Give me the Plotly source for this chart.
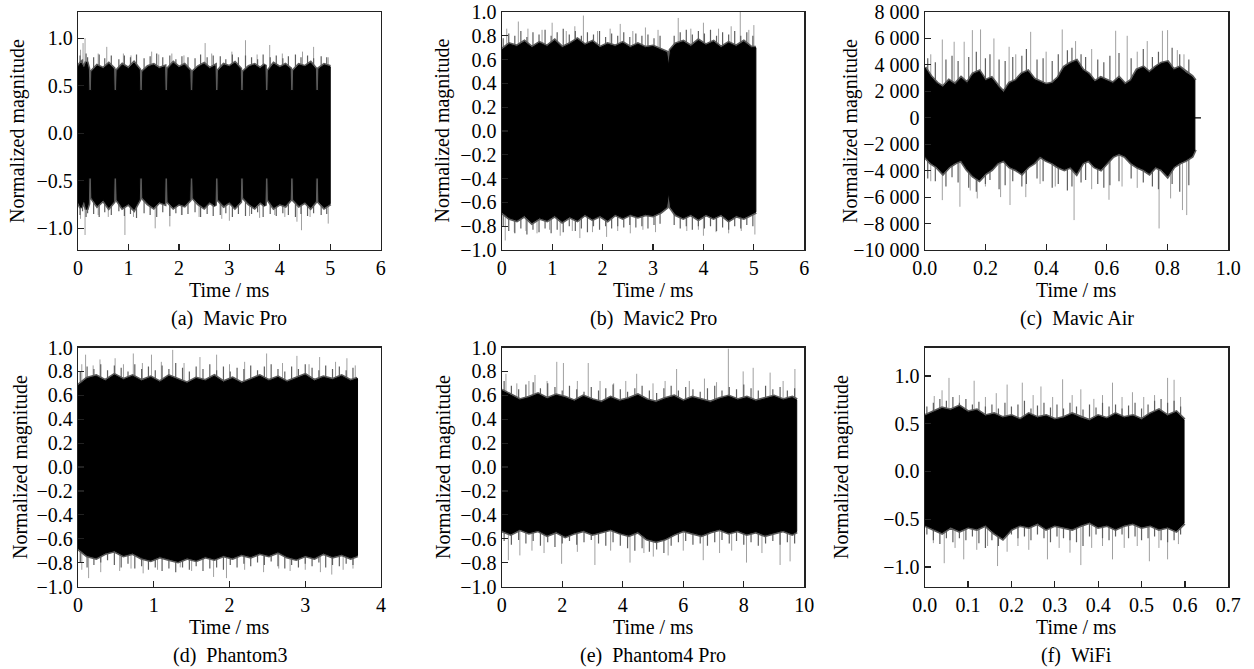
import plotly.graph_objects as go

W, H = 1254, 669
FONT = "Liberation Serif, Times New Roman, serif"
FS = 20

# ---------------- data ----------------
# (a) Mavic Pro : envelope of dense part, hairs at the edge, isolated peaks
a_t = [0.000, 0.060, 0.120, 0.170, 0.205, 0.215, 0.265,
       0.275, 0.380, 0.500, 0.610, 0.705, 0.715, 0.765,
       0.775, 0.880, 1.000, 1.110, 1.215, 1.225, 1.275,
       1.285, 1.390, 1.500, 1.610, 1.715, 1.725, 1.775,
       1.785, 1.890, 2.000, 2.110, 2.215, 2.225, 2.275,
       2.285, 2.390, 2.500, 2.610, 2.715, 2.725, 2.775,
       2.785, 2.890, 3.000, 3.110, 3.215, 3.225, 3.275,
       3.285, 3.390, 3.500, 3.610, 3.705, 3.715, 3.765,
       3.775, 3.880, 4.000, 4.110, 4.205, 4.215, 4.265,
       4.275, 4.380, 4.500, 4.610, 4.705, 4.715, 4.765,
       4.775, 4.880, 5.000]
a_hi = [0.70, 0.74, 0.68, 0.75, 0.68, 0.45, 0.45,
        0.65, 0.71, 0.68, 0.73, 0.68, 0.45, 0.45,
        0.66, 0.72, 0.68, 0.74, 0.67, 0.45, 0.45,
        0.65, 0.70, 0.72, 0.68, 0.70, 0.45, 0.45,
        0.68, 0.74, 0.69, 0.72, 0.66, 0.45, 0.45,
        0.65, 0.70, 0.73, 0.68, 0.71, 0.45, 0.45,
        0.66, 0.72, 0.70, 0.74, 0.68, 0.45, 0.45,
        0.65, 0.70, 0.72, 0.68, 0.72, 0.45, 0.45,
        0.66, 0.73, 0.69, 0.72, 0.68, 0.45, 0.45,
        0.66, 0.72, 0.70, 0.74, 0.68, 0.45, 0.45,
        0.68, 0.72, 0.70]
a_lo = [-0.72, -0.78, -0.70, -0.80, -0.74, -0.47, -0.47,
        -0.68, -0.76, -0.70, -0.78, -0.72, -0.47, -0.47,
        -0.70, -0.78, -0.74, -0.80, -0.70, -0.47, -0.47,
        -0.68, -0.74, -0.78, -0.72, -0.74, -0.47, -0.47,
        -0.72, -0.78, -0.74, -0.76, -0.70, -0.47, -0.47,
        -0.68, -0.74, -0.78, -0.72, -0.76, -0.47, -0.47,
        -0.70, -0.76, -0.72, -0.78, -0.72, -0.47, -0.47,
        -0.68, -0.74, -0.78, -0.72, -0.76, -0.47, -0.47,
        -0.70, -0.78, -0.74, -0.76, -0.70, -0.47, -0.47,
        -0.70, -0.76, -0.72, -0.78, -0.72, -0.47, -0.47,
        -0.72, -0.78, -0.74]
a_fr_t = [0.04, 0.09, 0.16, 0.19, 0.31, 0.42, 0.53, 0.66, 0.81, 0.92, 1.04, 1.16,
          1.31, 1.43, 1.56, 1.68, 1.82, 1.94, 2.06, 2.18, 2.32, 2.43, 2.56, 2.68,
          2.82, 2.93, 3.06, 3.18, 3.32, 3.44, 3.56, 3.67, 3.81, 3.93, 4.06, 4.17,
          4.31, 4.42, 4.55, 4.67, 4.82, 4.93]
a_fr_up = [0.82, 0.78, 0.84, 0.80, 0.80, 0.83, 0.79, 0.82, 0.78, 0.82, 0.80, 0.83,
           0.79, 0.81, 0.84, 0.80, 0.82, 0.78, 0.81, 0.80, 0.79, 0.83, 0.80, 0.82,
           0.81, 0.78, 0.83, 0.80, 0.82, 0.80, 0.78, 0.83, 0.80, 0.82, 0.79, 0.81,
           0.83, 0.80, 0.82, 0.79, 0.81, 0.80]
a_fr_dn = [-0.86, -0.82, -0.88, -0.84, -0.85, -0.88, -0.83, -0.86, -0.82, -0.87, -0.85, -0.89,
           -0.84, -0.86, -0.88, -0.83, -0.87, -0.84, -0.86, -0.85, -0.83, -0.88, -0.85, -0.87,
           -0.86, -0.84, -0.88, -0.85, -0.87, -0.85, -0.83, -0.88, -0.85, -0.87, -0.84, -0.86,
           -0.88, -0.85, -0.87, -0.84, -0.86, -0.85]
a_up_t = [0.05, 0.10, 0.14, 0.40, 0.57, 0.90, 1.05, 1.46, 1.60, 1.86, 2.10,
          2.52, 2.65, 3.05, 3.32, 3.55, 3.80, 4.05, 4.45, 4.67, 4.96]
a_up_v = [0.88, 0.95, 1.00, 0.84, 0.91, 0.84, 0.82, 0.86, 0.83, 0.84, 0.82,
          0.95, 0.84, 0.86, 0.98, 0.83, 0.93, 0.84, 0.86, 0.91, 0.80]
a_dn_t = [0.05, 0.14, 0.40, 0.60, 0.93, 1.10, 1.53, 1.82, 2.05, 2.40,
          2.85, 3.00, 3.40, 3.60, 3.90, 4.10, 4.34, 4.43, 4.60, 4.96]
a_dn_v = [-0.90, -1.07, -0.86, -0.88, -1.07, -0.88, -1.00, -0.98, -0.86, -0.88,
          -0.90, -0.92, -0.87, -0.89, -0.86, -0.88, -0.93, -1.02, -0.88, -0.95]

# (b) Mavic2 Pro
b_t = [0.00, 0.15, 0.30, 0.45, 0.60, 0.75, 0.90, 1.05, 1.20, 1.35, 1.50, 1.65,
       1.80, 1.95, 2.10, 2.25, 2.40, 2.55, 2.70, 2.85, 3.00, 3.15, 3.27, 3.31,
       3.35, 3.45, 3.60, 3.75, 3.90, 4.05, 4.20, 4.35, 4.50, 4.65, 4.80, 4.95, 5.04]
b_hi = [0.68, 0.73, 0.71, 0.75, 0.70, 0.74, 0.71, 0.76, 0.70, 0.73, 0.77, 0.72,
        0.75, 0.70, 0.73, 0.71, 0.74, 0.70, 0.73, 0.70, 0.71, 0.68, 0.66, 0.55,
        0.68, 0.73, 0.75, 0.71, 0.76, 0.72, 0.75, 0.70, 0.74, 0.71, 0.75, 0.70, 0.70]
b_lo = [-0.68, -0.73, -0.75, -0.71, -0.77, -0.73, -0.75, -0.71, -0.76, -0.72, -0.75, -0.70,
        -0.74, -0.71, -0.75, -0.70, -0.73, -0.70, -0.72, -0.70, -0.71, -0.68, -0.64, -0.52,
        -0.64, -0.70, -0.73, -0.70, -0.74, -0.70, -0.73, -0.70, -0.75, -0.71, -0.73, -0.70, -0.68]
b_fr_t = [0.03, 0.14, 0.26, 0.38, 0.50, 0.62, 0.74, 0.86, 0.98, 1.10, 1.22, 1.34,
          1.46, 1.58, 1.70, 1.82, 1.94, 2.06, 2.18, 2.30, 2.42, 2.54, 2.66, 2.78,
          2.90, 3.02, 3.14, 3.42, 3.54, 3.66, 3.78, 3.90, 4.02, 4.14, 4.26, 4.38,
          4.50, 4.62, 4.74, 4.86, 4.98]
b_fr_up = [0.78, 0.82, 0.80, 0.84, 0.79, 0.83, 0.81, 0.85, 0.80, 0.83, 0.86, 0.81,
           0.84, 0.80, 0.83, 0.81, 0.84, 0.79, 0.82, 0.80, 0.83, 0.79, 0.82, 0.80,
           0.81, 0.78, 0.80, 0.80, 0.83, 0.85, 0.81, 0.84, 0.82, 0.85, 0.80, 0.83,
           0.81, 0.84, 0.80, 0.83, 0.80]
b_fr_dn = [-0.80, -0.84, -0.86, -0.82, -0.87, -0.83, -0.85, -0.82, -0.86, -0.83, -0.85, -0.80,
           -0.84, -0.82, -0.85, -0.80, -0.83, -0.80, -0.82, -0.80, -0.81, -0.79, -0.81, -0.80,
           -0.82, -0.79, -0.78, -0.79, -0.82, -0.80, -0.83, -0.80, -0.82, -0.80, -0.84, -0.81,
           -0.83, -0.80, -0.82, -0.79, -0.80]
b_up_t = [0.10, 0.33, 0.52, 0.80, 1.00, 1.28, 1.45, 1.62, 1.90, 2.15, 2.35,
          2.60, 2.85, 3.10, 3.50, 3.75, 4.00, 4.30, 4.55, 4.73, 4.90, 5.00]
b_up_v = [0.86, 0.92, 0.86, 0.85, 0.91, 0.84, 0.88, 0.97, 0.84, 0.86, 0.90,
          0.84, 0.87, 0.85, 0.95, 0.86, 0.91, 0.86, 0.88, 1.00, 0.85, 0.89]
b_dn_t = [0.07, 0.25, 0.48, 0.70, 0.95, 1.16, 1.40, 1.55, 1.80, 2.08, 2.30,
          2.55, 2.80, 3.05, 3.67, 3.90, 4.00, 4.25, 4.50, 4.75, 5.02]
b_dn_v = [-0.92, -0.85, -0.84, -0.86, -0.83, -0.88, -0.84, -0.90, -0.85, -0.89, -0.84,
          -0.86, -0.83, -0.85, -0.84, -0.83, -0.88, -0.85, -0.86, -0.84, -0.87]

# (c) Mavic Air
c_t = [0.000, 0.020, 0.040, 0.060, 0.080, 0.100, 0.120, 0.140, 0.160, 0.180,
       0.200, 0.220, 0.240, 0.260, 0.280, 0.300, 0.320, 0.340, 0.360, 0.380,
       0.400, 0.420, 0.440, 0.460, 0.480, 0.500, 0.520, 0.540, 0.560, 0.580,
       0.600, 0.620, 0.640, 0.660, 0.680, 0.700, 0.720, 0.740, 0.760, 0.780,
       0.800, 0.820, 0.840, 0.860, 0.880, 0.890]
c_hi = [3800, 3100, 2600, 2300, 2800, 2500, 3000, 2600, 3300, 3500,
        2800, 3000, 2400, 1900, 2600, 2800, 3300, 3500, 2900, 2700,
        2500, 2600, 3000, 3800, 4100, 4300, 3600, 3300, 2700, 3000,
        2800, 2600, 3000, 2500, 2800, 3600, 3800, 3400, 3800, 4100,
        4200, 3600, 3800, 3400, 3100, 2800]
c_lo = [-2900, -3400, -3700, -4200, -3700, -3400, -3200, -3900, -4400, -4700,
        -4200, -3900, -3400, -3200, -3700, -3900, -4200, -3700, -3400, -2900,
        -3200, -3400, -3700, -3900, -3700, -4200, -3400, -3200, -3700, -3900,
        -3400, -2900, -2700, -2900, -3400, -3700, -3900, -4200, -3700, -3900,
        -4400, -3700, -3400, -3200, -2900, -2400]
c_fr_t = [0.010, 0.035, 0.070, 0.090, 0.110, 0.145, 0.170, 0.200, 0.215, 0.245,
          0.265, 0.290, 0.320, 0.335, 0.370, 0.390, 0.420, 0.440, 0.470, 0.485,
          0.515, 0.530, 0.570, 0.590, 0.610, 0.640, 0.680, 0.720, 0.750, 0.770,
          0.815, 0.840, 0.870]
c_fr_up = [4500, 4200, 4400, 4700, 4300, 4600, 5000, 4500, 4800, 4400,
           4300, 4600, 4700, 5200, 4400, 4500, 4300, 4800, 5100, 5300,
           4800, 4600, 4400, 4200, 4700, 4900, 4500, 5200, 4600, 5000,
           5300, 4800, 4400]
c_fr_dn = [-4600, -4800, -5200, -4500, -4900, -5300, -5600, -5000, -4700, -5400,
           -5100, -4800, -5200, -5000, -4600, -4800, -5300, -5000, -5500, -5200,
           -4900, -4700, -5000, -5300, -5100, -4800, -4600, -4900, -5200, -5400,
           -5000, -5600, -5100]
c_up_t = [0.020, 0.058, 0.097, 0.130, 0.157, 0.184, 0.228, 0.278, 0.300, 0.349, 0.400,
          0.453, 0.497, 0.550, 0.629, 0.667, 0.700, 0.733, 0.783, 0.800, 0.832, 0.854]
c_up_v = [4800, 5920, 5750, 5750, 6630, 6680, 6000, 5370, 4800, 6500, 5000,
          6680, 5800, 5200, 6580, 6200, 5000, 5800, 6580, 6630, 5120, 4800]
c_dn_t = [0.020, 0.058, 0.116, 0.150, 0.173, 0.200, 0.250, 0.281, 0.333, 0.380,
          0.430, 0.492, 0.550, 0.607, 0.650, 0.700, 0.772, 0.810, 0.849, 0.863]
c_dn_v = [-4800, -6230, -6730, -5500, -6100, -5200, -6000, -6600, -6000, -5000,
          -5200, -7740, -5400, -6200, -5200, -5300, -8370, -6100, -6980, -7360]
c_tail_t = [0.885, 0.910]
c_tail_v = [0, 0]

# (d) Phantom3
d_t = [0.00, 0.12, 0.24, 0.36, 0.48, 0.60, 0.72, 0.84, 0.96, 1.08, 1.20, 1.32,
       1.44, 1.56, 1.68, 1.80, 1.92, 2.04, 2.16, 2.28, 2.40, 2.52, 2.64, 2.76,
       2.88, 3.00, 3.12, 3.24, 3.36, 3.48, 3.60, 3.69]
d_hi = [0.68, 0.74, 0.76, 0.72, 0.77, 0.73, 0.76, 0.72, 0.75, 0.71, 0.76, 0.73,
        0.70, 0.74, 0.72, 0.76, 0.71, 0.74, 0.70, 0.73, 0.76, 0.72, 0.75, 0.71,
        0.74, 0.77, 0.72, 0.75, 0.73, 0.76, 0.72, 0.74]
d_lo = [-0.68, -0.74, -0.76, -0.72, -0.70, -0.74, -0.72, -0.76, -0.78, -0.75, -0.77, -0.79,
        -0.76, -0.78, -0.75, -0.77, -0.74, -0.76, -0.73, -0.75, -0.72, -0.74, -0.71, -0.75,
        -0.77, -0.74, -0.76, -0.72, -0.75, -0.73, -0.76, -0.74]
d_fr_t = [0.03, 0.12, 0.21, 0.30, 0.39, 0.48, 0.57, 0.66, 0.75, 0.84, 0.93, 1.02,
          1.11, 1.20, 1.29, 1.38, 1.47, 1.56, 1.65, 1.74, 1.83, 1.92, 2.01, 2.10,
          2.19, 2.28, 2.37, 2.46, 2.55, 2.64, 2.73, 2.82, 2.91, 3.00, 3.09, 3.18,
          3.27, 3.36, 3.45, 3.54, 3.63]
d_fr_up = [0.80, 0.84, 0.82, 0.86, 0.81, 0.85, 0.83, 0.80, 0.86, 0.82, 0.84, 0.81,
           0.85, 0.82, 0.87, 0.83, 0.80, 0.84, 0.82, 0.86, 0.81, 0.84, 0.80, 0.83,
           0.82, 0.85, 0.81, 0.84, 0.86, 0.82, 0.80, 0.84, 0.82, 0.86, 0.83, 0.81,
           0.85, 0.82, 0.84, 0.81, 0.83]
d_fr_dn = [-0.80, -0.84, -0.82, -0.80, -0.78, -0.82, -0.84, -0.81, -0.85, -0.83, -0.86, -0.84,
           -0.87, -0.85, -0.88, -0.84, -0.86, -0.83, -0.87, -0.85, -0.84, -0.86, -0.82, -0.84,
           -0.81, -0.83, -0.80, -0.82, -0.79, -0.83, -0.85, -0.82, -0.84, -0.81, -0.83, -0.80,
           -0.84, -0.82, -0.83, -0.81, -0.82]
d_up_t = [0.05, 0.10, 0.20, 0.29, 0.49, 0.60, 0.73, 0.85, 0.97, 1.10, 1.25, 1.40,
          1.61, 1.83, 2.00, 2.20, 2.49, 2.70, 2.89, 3.05, 3.19, 3.40, 3.55, 3.66]
d_up_v = [0.86, 0.94, 0.85, 0.90, 0.91, 0.86, 0.95, 0.87, 0.94, 0.88, 0.98, 0.87,
          0.92, 0.94, 0.86, 0.88, 0.95, 0.87, 0.93, 0.86, 0.92, 0.88, 0.91, 0.85]
d_dn_t = [0.05, 0.14, 0.30, 0.55, 0.70, 0.86, 1.05, 1.35, 1.50, 1.79,
          1.96, 2.20, 2.45, 2.65, 2.80, 3.00, 3.20, 3.35, 3.50, 3.63]
d_dn_v = [-0.86, -0.93, -0.88, -0.87, -0.85, -0.89, -0.86, -0.84, -0.87, -0.92,
          -0.93, -0.86, -0.88, -0.85, -0.87, -0.86, -0.88, -0.90, -0.86, -0.85]

# (e) Phantom4 Pro
e_t = [0.0, 0.3, 0.6, 0.9, 1.2, 1.5, 1.8, 2.1, 2.4, 2.7, 3.0, 3.3, 3.6, 3.9, 4.2, 4.5, 4.8,
       5.1, 5.4, 5.7, 6.0, 6.3, 6.6, 6.9, 7.2, 7.5, 7.8, 8.1, 8.4, 8.7, 9.0, 9.3, 9.6, 9.75]
e_hi = [0.64, 0.60, 0.56, 0.58, 0.61, 0.57, 0.60, 0.58, 0.55, 0.59, 0.56, 0.54, 0.58, 0.55,
        0.57, 0.60, 0.56, 0.54, 0.57, 0.59, 0.55, 0.58, 0.56, 0.54, 0.57, 0.59, 0.56, 0.58,
        0.55, 0.57, 0.59, 0.56, 0.58, 0.56]
e_lo = [-0.53, -0.56, -0.52, -0.55, -0.53, -0.57, -0.54, -0.58, -0.55, -0.53, -0.56, -0.54,
        -0.52, -0.55, -0.57, -0.54, -0.60, -0.62, -0.60, -0.56, -0.53, -0.55, -0.57, -0.54,
        -0.52, -0.55, -0.53, -0.56, -0.54, -0.57, -0.55, -0.53, -0.56, -0.54]
e_fr_t = [0.08, 0.32, 0.56, 0.80, 1.04, 1.28, 1.52, 1.76, 2.00, 2.24, 2.48, 2.72,
          2.96, 3.20, 3.44, 3.68, 3.92, 4.16, 4.40, 4.64, 4.88, 5.12, 5.36, 5.60,
          5.84, 6.08, 6.32, 6.56, 6.80, 7.04, 7.28, 7.52, 7.76, 8.00, 8.24, 8.48,
          8.72, 8.96, 9.20, 9.44, 9.68]
e_fr_up = [0.72, 0.68, 0.65, 0.69, 0.71, 0.66, 0.70, 0.67, 0.64, 0.68, 0.65, 0.63,
           0.67, 0.64, 0.66, 0.69, 0.65, 0.63, 0.66, 0.68, 0.64, 0.62, 0.66, 0.68,
           0.64, 0.67, 0.65, 0.63, 0.66, 0.68, 0.64, 0.67, 0.65, 0.69, 0.66, 0.64,
           0.68, 0.65, 0.67, 0.64, 0.66]
e_fr_dn = [-0.62, -0.65, -0.61, -0.64, -0.62, -0.66, -0.63, -0.67, -0.64, -0.62, -0.65, -0.63,
           -0.61, -0.64, -0.66, -0.63, -0.66, -0.68, -0.70, -0.68, -0.71, -0.69, -0.72, -0.66,
           -0.63, -0.62, -0.65, -0.64, -0.66, -0.63, -0.61, -0.64, -0.62, -0.65, -0.63, -0.66,
           -0.64, -0.62, -0.65, -0.63, -0.64]
e_up_t = [0.14, 0.50, 0.90, 1.10, 1.50, 1.82, 2.04, 2.50, 2.86, 3.25, 3.70, 4.10, 4.46,
          5.00, 5.40, 5.78, 6.20, 6.70, 7.10, 7.49, 7.98, 8.31, 8.87, 9.30, 9.69]
e_up_v = [0.78, 0.70, 0.72, 0.77, 0.72, 0.88, 0.87, 0.72, 0.87, 0.72, 0.70, 0.72, 0.78,
          0.70, 0.72, 0.82, 0.72, 0.74, 0.71, 0.99, 0.80, 0.83, 0.79, 0.72, 0.82]
e_dn_t = [0.22, 0.60, 1.00, 1.40, 1.98, 2.50, 3.08, 3.60, 4.24, 4.70,
          5.01, 5.50, 6.00, 6.66, 7.20, 7.60, 8.09, 8.60, 9.20, 9.53]
e_dn_v = [-0.78, -0.74, -0.70, -0.72, -0.81, -0.71, -0.82, -0.70, -0.80, -0.72,
          -0.75, -0.74, -0.70, -0.78, -0.72, -0.70, -0.80, -0.72, -0.82, -0.79]

# (f) WiFi
f_t = [0.000, 0.020, 0.040, 0.060, 0.080, 0.100, 0.120, 0.140, 0.160, 0.180, 0.200,
       0.220, 0.240, 0.260, 0.280, 0.300, 0.320, 0.340, 0.360, 0.380, 0.400, 0.420,
       0.440, 0.460, 0.480, 0.500, 0.520, 0.540, 0.560, 0.580, 0.598]
f_hi = [0.58, 0.62, 0.66, 0.64, 0.68, 0.62, 0.64, 0.58, 0.60, 0.56, 0.58, 0.54, 0.60,
        0.56, 0.58, 0.54, 0.56, 0.60, 0.56, 0.53, 0.58, 0.55, 0.60, 0.56, 0.58, 0.54,
        0.60, 0.64, 0.58, 0.62, 0.54]
f_lo = [-0.56, -0.60, -0.64, -0.58, -0.62, -0.58, -0.60, -0.56, -0.64, -0.70, -0.60,
        -0.56, -0.58, -0.54, -0.60, -0.56, -0.58, -0.60, -0.56, -0.53, -0.58, -0.56,
        -0.60, -0.56, -0.54, -0.58, -0.56, -0.60, -0.58, -0.62, -0.54]
f_fr_t = [0.005, 0.020, 0.035, 0.050, 0.065, 0.080, 0.095, 0.110, 0.125, 0.140,
          0.155, 0.170, 0.185, 0.200, 0.215, 0.230, 0.245, 0.260, 0.275, 0.290,
          0.305, 0.320, 0.335, 0.350, 0.365, 0.380, 0.395, 0.410, 0.425, 0.440,
          0.455, 0.470, 0.485, 0.500, 0.515, 0.530, 0.545, 0.560, 0.575, 0.590]
f_fr_up = [0.68, 0.72, 0.76, 0.74, 0.78, 0.72, 0.76, 0.70, 0.73, 0.68,
           0.70, 0.66, 0.72, 0.68, 0.70, 0.74, 0.66, 0.69, 0.72, 0.67,
           0.70, 0.66, 0.72, 0.68, 0.65, 0.70, 0.67, 0.72, 0.68, 0.70,
           0.66, 0.69, 0.72, 0.66, 0.70, 0.74, 0.76, 0.72, 0.74, 0.68]
f_fr_dn = [-0.66, -0.72, -0.76, -0.70, -0.74, -0.70, -0.72, -0.68, -0.75, -0.80,
           -0.72, -0.78, -0.70, -0.66, -0.70, -0.68, -0.72, -0.66, -0.70, -0.74,
           -0.68, -0.70, -0.72, -0.74, -0.78, -0.68, -0.66, -0.70, -0.72, -0.68,
           -0.66, -0.70, -0.68, -0.72, -0.70, -0.68, -0.72, -0.74, -0.72, -0.66]
f_up_t = [0.022, 0.040, 0.056, 0.080, 0.114, 0.140, 0.165, 0.190, 0.225, 0.250, 0.268,
          0.295, 0.318, 0.340, 0.360, 0.390, 0.410, 0.433, 0.455, 0.479, 0.505, 0.530,
          0.560, 0.575, 0.590]
f_up_v = [0.79, 0.85, 0.98, 0.80, 0.95, 0.78, 0.82, 0.91, 0.93, 0.80, 0.89,
          0.78, 0.965, 0.80, 0.86, 0.76, 0.80, 0.93, 0.78, 0.83, 0.78, 0.80,
          0.98, 0.96, 0.78]
f_dn_t = [0.020, 0.045, 0.070, 0.090, 0.120, 0.145, 0.168, 0.190, 0.215, 0.240, 0.283,
          0.310, 0.335, 0.360, 0.385, 0.410, 0.433, 0.460, 0.490, 0.518, 0.540, 0.560, 0.585]
f_dn_v = [-0.75, -0.96, -0.80, -0.92, -0.82, -0.78, -0.99, -0.84, -0.78, -0.82, -0.92,
          -0.80, -0.85, -0.98, -0.80, -0.78, -0.92, -0.80, -0.78, -0.94, -0.80, -0.92, -0.76]

# tick labels
c_yticks = [-10000, -8000, -6000, -4000, -2000, 0, 2000, 4000, 6000, 8000]
c_yticktext = ["\u221210 000", "\u22128 000", "\u22126 000", "\u22124 000", "\u22122 000",
               "0", "2 000", "4 000", "6 000", "8 000"]

captions = ["(a)\u00a0\u00a0Mavic Pro", "(b)\u00a0\u00a0Mavic2 Pro", "(c)\u00a0\u00a0Mavic Air",
            "(d)\u00a0\u00a0Phantom3", "(e)\u00a0\u00a0Phantom4 Pro", "(f)\u00a0\u00a0WiFi"]

series = [
    (a_t, a_hi, a_lo, a_fr_t, a_fr_up, a_fr_dn, a_up_t, a_up_v, a_dn_t, a_dn_v),
    (b_t, b_hi, b_lo, b_fr_t, b_fr_up, b_fr_dn, b_up_t, b_up_v, b_dn_t, b_dn_v),
    (c_t, c_hi, c_lo, c_fr_t, c_fr_up, c_fr_dn, c_up_t, c_up_v, c_dn_t, c_dn_v),
    (d_t, d_hi, d_lo, d_fr_t, d_fr_up, d_fr_dn, d_up_t, d_up_v, d_dn_t, d_dn_v),
    (e_t, e_hi, e_lo, e_fr_t, e_fr_up, e_fr_dn, e_up_t, e_up_v, e_dn_t, e_dn_v),
    (f_t, f_hi, f_lo, f_fr_t, f_fr_up, f_fr_dn, f_up_t, f_up_v, f_dn_t, f_dn_v),
]

# ---------------- layout geometry (picture pixels) ----------------
boxes = [  # left, right, top, bottom
    (78, 380.7, 12, 250), (501.7, 804.3, 12, 250), (924.7, 1228.3, 12, 250),
    (78, 381, 347.5, 586.5), (501.7, 804.3, 347.5, 586.5), (924.7, 1228.3, 347.5, 586.5),
]
xranges = [[0, 6], [0, 6], [0, 1], [0, 4], [0, 10], [0, 0.7]]
yranges = [[-1.228, 1.277], [-1, 1], [-10000, 8000], [-1, 1], [-1, 1], [-1.204, 1.298]]
xdticks = [1, 1, 0.2, 1, 2, 0.1]
ydticks = [0.5, 0.2, 2000, 0.2, 0.2, 0.5]
xfmts = ["d", "d", ".1f", "d", "d", ".1f"]
yfmts = [".1f", ".1f", None, ".1f", ".1f", ".1f"]
ytitle_x = [17, 441.5, 850, 20, 443, 841]


def fx(px):
    return px / W


def fy(py):
    return 1 - py / H


fig = go.Figure()


def segs(ts, vs):
    xs, ys = [], []
    for t, v in zip(ts, vs):
        xs += [t, t, None]
        ys += [0, v, None]
    return xs, ys


def add_lines(xs, ys, color, width, xa, ya):
    fig.add_trace(go.Scatter(x=xs, y=ys, mode="lines",
                             line=dict(color=color, width=width),
                             xaxis=xa, yaxis=ya, hoverinfo="skip", showlegend=False))


for i, (t, hi, lo, frt, fru, frd, ut, uv, dt, dv) in enumerate(series):
    n = "" if i == 0 else str(i + 1)
    xa, ya = "x" + n, "y" + n
    # isolated tall peaks (light grey)
    sx1, sy1 = segs(ut, uv)
    sx2, sy2 = segs(dt, dv)
    add_lines(sx1 + sx2, sy1 + sy2, "rgb(160,160,160)", 1, xa, ya)
    # dense hairs just outside the core (darker grey)
    hx1, hy1 = segs(frt, fru)
    hx2, hy2 = segs(frt, frd)
    add_lines(hx1 + hx2, hy1 + hy2, "rgb(95,95,95)", 1.2, xa, ya)
    # soft grey fringe along the upper and lower edges only
    add_lines(list(t) + [None] + list(t), list(hi) + [None] + list(lo),
              "rgb(90,90,90)", 4, xa, ya)
    px = list(t) + list(t)[::-1]
    py = list(hi) + list(lo)[::-1]
    fig.add_trace(go.Scatter(x=px, y=py, mode="lines", fill="toself",
                             fillcolor="black", line=dict(color="black", width=1),
                             xaxis=xa, yaxis=ya, hoverinfo="skip", showlegend=False))
    if i == 2:
        add_lines(c_tail_t, c_tail_v, "black", 1.3, xa, ya)

axis_common = dict(showline=True, linecolor="#222", linewidth=1.2, mirror=True,
                   ticks="inside", ticklen=6, tickwidth=1.2, tickcolor="#222",
                   showgrid=False, zeroline=False, automargin=False,
                   ticklabeloverflow="allow",
                   tickfont=dict(family=FONT, size=FS, color="black"))

annotations = []
for i in range(6):
    n = "" if i == 0 else str(i + 1)
    l, r, tp, bt = boxes[i]
    xa = dict(axis_common, domain=[fx(l), fx(r)], anchor="y" + n, range=xranges[i],
              dtick=xdticks[i], tick0=0, tickformat=xfmts[i])
    ya = dict(axis_common, domain=[fy(bt), fy(tp)], anchor="x" + n, range=yranges[i])
    if i == 2:
        ya.update(tickmode="array", tickvals=c_yticks, ticktext=c_yticktext)
    else:
        ya.update(dtick=ydticks[i], tick0=0, tickformat=yfmts[i])
    fig.layout["xaxis" + n] = xa
    fig.layout["yaxis" + n] = ya

    cx = (l + r) / 2
    annotations.append(dict(text="Time / ms", x=fx(cx), y=fy(bt + 40),
                            xref="paper", yref="paper", showarrow=False,
                            xanchor="center", yanchor="middle",
                            font=dict(family=FONT, size=FS, color="black")))
    annotations.append(dict(text=captions[i], x=fx(cx), y=fy(bt + 68.5),
                            xref="paper", yref="paper", showarrow=False,
                            xanchor="center", yanchor="middle",
                            font=dict(family=FONT, size=FS, color="black")))
    annotations.append(dict(text="Normalized magnitude", x=fx(ytitle_x[i]),
                            y=fy((tp + bt) / 2), textangle=-90,
                            xref="paper", yref="paper", showarrow=False,
                            xanchor="center", yanchor="middle",
                            font=dict(family=FONT, size=FS, color="black")))

fig.update_layout(template="none", width=W, height=H,
                  margin=dict(l=0, r=0, t=0, b=0, pad=0, autoexpand=False),
                  paper_bgcolor="white", plot_bgcolor="white",
                  annotations=annotations, showlegend=False)

# remove the browser's default 8px page margin so the figure sits at (0, 0)
fig.write_html("out.html",
               config={"displayModeBar": False, "staticPlot": True},
               post_script="document.body.style.margin='0px';document.body.style.overflow='hidden';")
